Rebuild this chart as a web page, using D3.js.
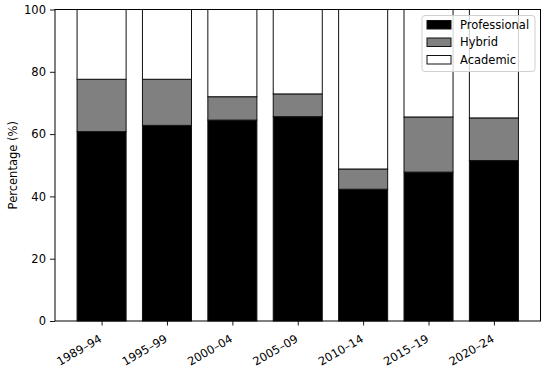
<!DOCTYPE html>
<html>
<head>
<meta charset="utf-8">
<script src="https://cdn.jsdelivr.net/npm/d3@7"></script>
<style>
body { margin: 0; background: #fff; }
text { font-family: "DejaVu Sans", sans-serif; }
</style>
</head>
<body>
<script>
// periods on the x axis
var periods = ['1989–94', '1995–99', '2000–04', '2005–09', '2010–14', '2015–19', '2020–24'];
// share of each type, percent
var professional = [60.8, 62.8, 64.5, 65.6, 42.3, 47.8, 51.5];
var hybrid = [16.8, 14.8, 7.5, 7.3, 6.5, 17.7, 13.7];
var academic = [22.4, 22.4, 28.0, 27.1, 51.2, 34.5, 34.8];
var seriesNames = ['Professional', 'Hybrid', 'Academic'];
var seriesColors = ['#000000', '#808080', '#ffffff'];
var yTicks = [0, 20, 40, 60, 80, 100];

var W = 550, H = 374;
var margin = {left: 55, right: 9.5, top: 9.5, bottom: 53};
var fs = 11.5;

var svg = d3.select('body').append('svg')
	.attr('width', W)
	.attr('height', H);

// matplotlib-ish: bars of width 0.75 with 5% padding on the sides
var n = periods.length, bw = 0.75;
var pad = (n - 1 + bw) * 0.05;
var x = d3.scaleLinear()
	.domain([-bw / 2 - pad, n - 1 + bw / 2 + pad])
	.range([margin.left, W - margin.right]);
var y = d3.scaleLinear()
	.domain([0, 100])
	.range([H - margin.bottom, margin.top]);

var rows = periods.map(function(p, i) {
	return {period: p, Professional: professional[i], Hybrid: hybrid[i], Academic: academic[i]};
});
var stack = d3.stack().keys(seriesNames)(rows);

var g = svg.append('g');
stack.forEach(function(layer, k) {
	g.selectAll('rect.s' + k)
		.data(layer)
		.enter().append('rect')
		.attr('x', function(d, i) { return x(i - bw / 2); })
		.attr('width', function() { return x(bw) - x(0); })
		.attr('y', function(d) { return y(d[1]); })
		.attr('height', function(d) { return y(d[0]) - y(d[1]); })
		.attr('fill', seriesColors[k])
		.attr('stroke', '#111')
		.attr('stroke-width', 1);
});

// axes
var xAxis = d3.axisBottom(x)
	.tickValues(d3.range(n))
	.tickFormat(function(i) { return periods[i]; })
	.tickSizeOuter(0)
	.tickSize(4.5)
	.tickPadding(3);
var xg = svg.append('g')
	.attr('transform', 'translate(0,' + (H - margin.bottom) + ')')
	.call(xAxis);
xg.selectAll('text')
	.attr('font-size', fs)
	.attr('fill', '#000')
	.attr('text-anchor', 'end')
	.attr('dy', '0.71em')
	.attr('transform', 'translate(-3.5,13) rotate(-30)')
	.attr('y', 0)
	.attr('x', 0);

var yAxis = d3.axisLeft(y)
	.tickValues(yTicks)
	.tickSizeOuter(0)
	.tickSize(5)
	.tickPadding(4);
var yg = svg.append('g')
	.attr('transform', 'translate(' + margin.left + ',0)')
	.call(yAxis);
yg.selectAll('text').attr('font-size', fs).attr('fill', '#000');

svg.selectAll('.domain').remove();
svg.selectAll('.tick line').attr('stroke', '#000').attr('stroke-width', 0.9);

// frame
svg.append('rect')
	.attr('x', margin.left)
	.attr('y', margin.top)
	.attr('width', W - margin.right - margin.left)
	.attr('height', H - margin.bottom - margin.top)
	.attr('fill', 'none')
	.attr('stroke', '#000')
	.attr('stroke-width', 1);

svg.append('text')
	.attr('transform', 'translate(17,' + ((margin.top + H - margin.bottom) / 2) + ') rotate(-90)')
	.attr('text-anchor', 'middle')
	.attr('font-size', fs)
	.text('Percentage (%)');

// legend
var lg = svg.append('g').attr('transform', 'translate(422,15.5)');
lg.append('rect')
	.attr('width', 113)
	.attr('height', 56)
	.attr('rx', 3)
	.attr('fill', 'rgba(255,255,255,0.8)')
	.attr('stroke', '#d0d0d0')
	.attr('stroke-width', 1);
seriesNames.forEach(function(name, k) {
	var cy = 9 + k * 17.5;
	lg.append('rect')
		.attr('x', 5)
		.attr('y', cy - 4)
		.attr('width', 24)
		.attr('height', 8.5)
		.attr('fill', seriesColors[k])
		.attr('stroke', '#111')
		.attr('stroke-width', 1);
	lg.append('text')
		.attr('x', 38)
		.attr('y', cy)
		.attr('dy', '0.35em')
		.attr('font-size', fs)
		.text(name);
});
</script>
</body>
</html>
